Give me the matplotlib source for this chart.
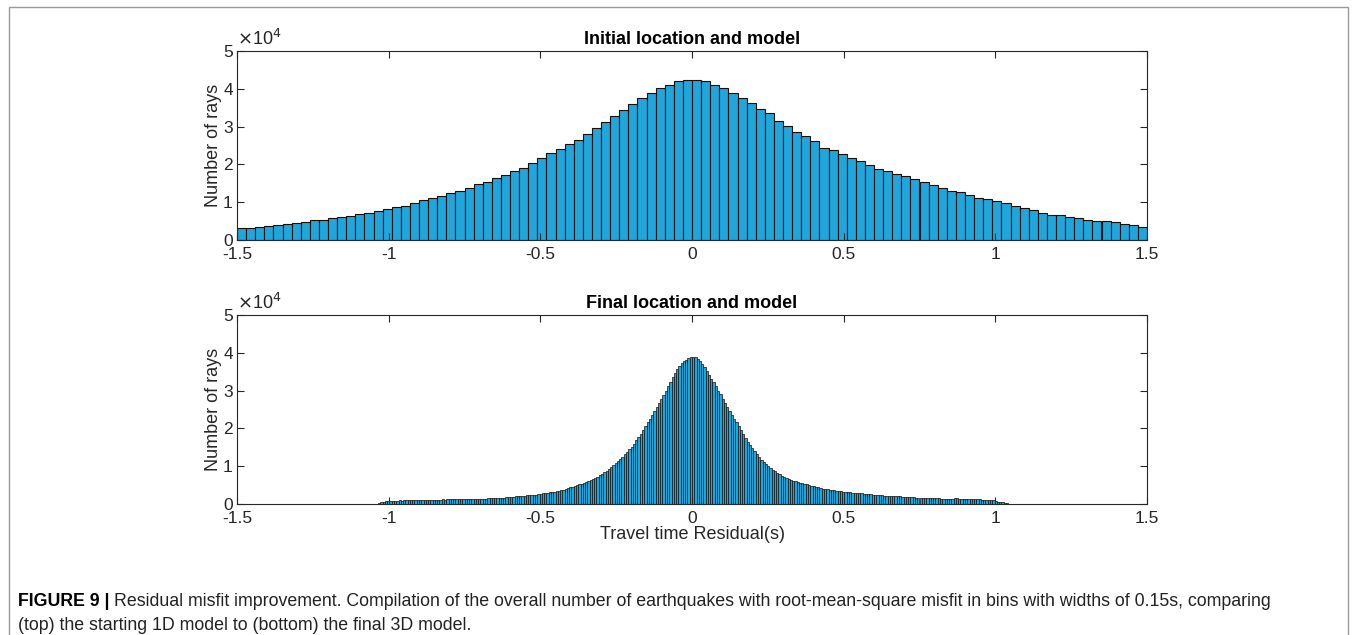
import numpy as np
import matplotlib
matplotlib.use('Agg')
import matplotlib.pyplot as plt
from matplotlib import font_manager
from matplotlib.patches import Rectangle

W, H = 1357, 635

# Initial location/model: 0.03 s bins over [-1.5, 1.5], counts in units of 1e4
initial_start = -1.5
initial_width = 0.03
initial_counts = [
    0.32, 0.32, 0.347, 0.373, 0.409, 0.427, 0.444, 0.471, 0.524, 0.542,
    0.587, 0.613, 0.631, 0.684, 0.72, 0.773, 0.818, 0.88, 0.907, 0.987,
    1.058, 1.111, 1.156, 1.236, 1.307, 1.378, 1.484, 1.547, 1.627, 1.724,
    1.813, 1.911, 2.036, 2.178, 2.302, 2.418, 2.533, 2.658, 2.817, 2.975,
    3.116, 3.275, 3.433, 3.609, 3.75, 3.9, 4.014, 4.11, 4.2, 4.243,
    4.243, 4.217, 4.11, 4.03, 3.89, 3.75, 3.627, 3.46, 3.37, 3.15,
    3.028, 2.852, 2.746, 2.632, 2.447, 2.394, 2.28, 2.174, 2.077, 1.98,
    1.884, 1.83, 1.75, 1.68, 1.61, 1.523, 1.452, 1.382, 1.30, 1.259,
    1.188, 1.118, 1.09, 1.02, 0.968, 0.889, 0.845, 0.792, 0.722, 0.669,
    0.669, 0.607, 0.572, 0.537, 0.51, 0.493, 0.467, 0.414, 0.387, 0.352,
]

# Final location/model: narrow bins, counts in units of 1e4
final_start = -1.035
final_width = 0.0075
final_counts = [
    0.02, 0.04, 0.05, 0.07, 0.09, 0.09, 0.09, 0.09, 0.09, 0.10,
    0.09, 0.10, 0.10, 0.11, 0.11, 0.11, 0.11, 0.11, 0.11, 0.11,
    0.11, 0.11, 0.11, 0.11, 0.11, 0.11, 0.11, 0.11, 0.12, 0.11,
    0.12, 0.12, 0.12, 0.12, 0.12, 0.13, 0.12, 0.13, 0.13, 0.13,
    0.13, 0.13, 0.13, 0.14, 0.14, 0.14, 0.14, 0.14, 0.15, 0.15,
    0.15, 0.16, 0.16, 0.16, 0.17, 0.17, 0.18, 0.18, 0.19, 0.19,
    0.20, 0.20, 0.21, 0.21, 0.22, 0.23, 0.23, 0.24, 0.25, 0.25,
    0.26, 0.27, 0.28, 0.29, 0.30, 0.31, 0.32, 0.33, 0.34, 0.35,
    0.37, 0.38, 0.40, 0.42, 0.44, 0.46, 0.48, 0.50, 0.52, 0.54,
    0.56, 0.58, 0.61, 0.63, 0.66, 0.69, 0.72, 0.76, 0.80, 0.84,
    0.88, 0.93, 0.98, 1.03, 1.08, 1.13, 1.18, 1.24, 1.31, 1.38,
    1.45, 1.52, 1.60, 1.68, 1.77, 1.86, 1.96, 2.06, 2.16, 2.26,
    2.36, 2.46, 2.56, 2.66, 2.77, 2.88, 3.00, 3.12, 3.24, 3.35,
    3.46, 3.56, 3.65, 3.72, 3.78, 3.82, 3.86, 3.89, 3.90, 3.88,
    3.84, 3.78, 3.71, 3.62, 3.52, 3.42, 3.32, 3.22, 3.11, 3.00,
    2.90, 2.79, 2.68, 2.57, 2.46, 2.36, 2.26, 2.16, 2.06, 1.95,
    1.84, 1.74, 1.64, 1.55, 1.47, 1.39, 1.31, 1.24, 1.17, 1.11,
    1.05, 1.00, 0.95, 0.91, 0.87, 0.83, 0.79, 0.75, 0.72, 0.69,
    0.66, 0.64, 0.62, 0.60, 0.58, 0.56, 0.55, 0.53, 0.52, 0.50,
    0.48, 0.47, 0.45, 0.44, 0.43, 0.41, 0.40, 0.39, 0.38, 0.37,
    0.36, 0.35, 0.35, 0.34, 0.33, 0.32, 0.32, 0.31, 0.30, 0.29,
    0.29, 0.28, 0.28, 0.27, 0.27, 0.26, 0.26, 0.25, 0.25, 0.24,
    0.23, 0.23, 0.22, 0.22, 0.22, 0.21, 0.21, 0.20, 0.20, 0.20,
    0.19, 0.19, 0.19, 0.18, 0.18, 0.18, 0.17, 0.17, 0.17, 0.16,
    0.16, 0.16, 0.16, 0.15, 0.15, 0.15, 0.15, 0.14, 0.14, 0.14,
    0.14, 0.13, 0.14, 0.15, 0.15, 0.14, 0.13, 0.13, 0.13, 0.12,
    0.12, 0.12, 0.12, 0.12, 0.12, 0.11, 0.11, 0.11, 0.11, 0.11,
    0.10, 0.08, 0.06, 0.05, 0.04, 0.03, 0.02, 0.01,
]

x_ticks = [-1.5, -1, -0.5, 0, 0.5, 1, 1.5]
x_tick_labels = ['-1.5', '-1', '-0.5', '0', '0.5', '1', '1.5']
y_ticks = [0, 1, 2, 3, 4, 5]
y_tick_labels = ['0', '1', '2', '3', '4', '5']

titles = ['Initial location and model', 'Final location and model']
y_label = 'Number of rays'
x_label = 'Travel time Residual(s)'
caption_head = 'FIGURE 9 |'
caption_line1 = ('Residual misfit improvement. Compilation of the overall number of earthquakes '
                 'with root-mean-square misfit in bins with widths of 0.15s, comparing')
caption_line2 = '(top) the starting 1D model to (bottom) the final 3D model.'

BAR_COLOR = '#21a6dc'
AXIS_COLOR = '#262626'
TICK_SIZE = 12.5
CAPTION_SIZE = 12.8

installed = {f.name for f in font_manager.fontManager.ttflist}
narrow = 'Liberation Sans Narrow' if 'Liberation Sans Narrow' in installed else 'Liberation Sans'
plt.rcParams['font.family'] = ['Liberation Sans', 'DejaVu Sans']


def px_rect(left, top, right, bottom):
    return [left / W, 1 - bottom / H, (right - left) / W, (bottom - top) / H]


def style_axes(ax, title):
    ax.set_xlim(-1.5, 1.5)
    ax.set_ylim(0, 5e4)
    ax.set_xticks(x_ticks)
    ax.set_xticklabels(x_tick_labels)
    ax.set_yticks([t * 1e4 for t in y_ticks])
    ax.set_yticklabels(y_tick_labels)
    ax.tick_params(direction='in', length=5, width=0.8, color=AXIS_COLOR,
                   labelcolor=AXIS_COLOR, labelsize=TICK_SIZE, top=True, right=True)
    ax.tick_params(axis='x', pad=5)
    ax.tick_params(axis='y', pad=3)
    for s in ax.spines.values():
        s.set_color(AXIS_COLOR)
        s.set_linewidth(0.8)
    ax.set_title(title, fontsize=13, fontweight='bold', color='black', pad=5)
    ax.set_ylabel(y_label, fontsize=13, color=AXIS_COLOR, labelpad=1)
    ax.text(0.0, 1.01, r'$\times$10$^{4}$', transform=ax.transAxes,
            fontsize=13, color=AXIS_COLOR, ha='left', va='bottom')


fig = plt.figure(figsize=(W / 100, H / 100), dpi=100)

ax_top = fig.add_axes(px_rect(237, 51, 1147, 240))
ax_bot = fig.add_axes(px_rect(237, 315, 1147, 504))

top_edges = initial_start + initial_width * np.arange(len(initial_counts))
ax_top.bar(top_edges, np.array(initial_counts) * 1e4, width=initial_width, align='edge',
           color=BAR_COLOR, edgecolor='#111111', linewidth=0.8)
style_axes(ax_top, titles[0])

bot_edges = final_start + final_width * np.arange(len(final_counts))
ax_bot.bar(bot_edges, np.array(final_counts) * 1e4, width=final_width, align='edge',
           color=BAR_COLOR, edgecolor='#111111', linewidth=0.5)
style_axes(ax_bot, titles[1])
ax_bot.set_xlabel(x_label, fontsize=13, color=AXIS_COLOR, labelpad=0)

# outer frame around figure and caption
fig.patches.append(Rectangle((9 / W, -0.05), (1348 - 9) / W, 1.05 - 7 / H,
                             transform=fig.transFigure, fill=False,
                             edgecolor='#9a9a9a', linewidth=1.0))

fig.canvas.draw()
head = fig.text(18 / W, 1 - 602 / H, caption_head, fontsize=CAPTION_SIZE, fontweight='bold',
                family=narrow, color='black', va='center', ha='left')
fig.canvas.draw()
bb = head.get_window_extent()
fig.text((bb.x1 + 4) / W, 1 - 602 / H, caption_line1, fontsize=CAPTION_SIZE, family=narrow,
         color='#222222', va='center', ha='left')
fig.text(18 / W, 1 - 625 / H, caption_line2, fontsize=CAPTION_SIZE, family=narrow,
         color='#222222', va='center', ha='left')

fig.savefig('out.png', dpi=100)
